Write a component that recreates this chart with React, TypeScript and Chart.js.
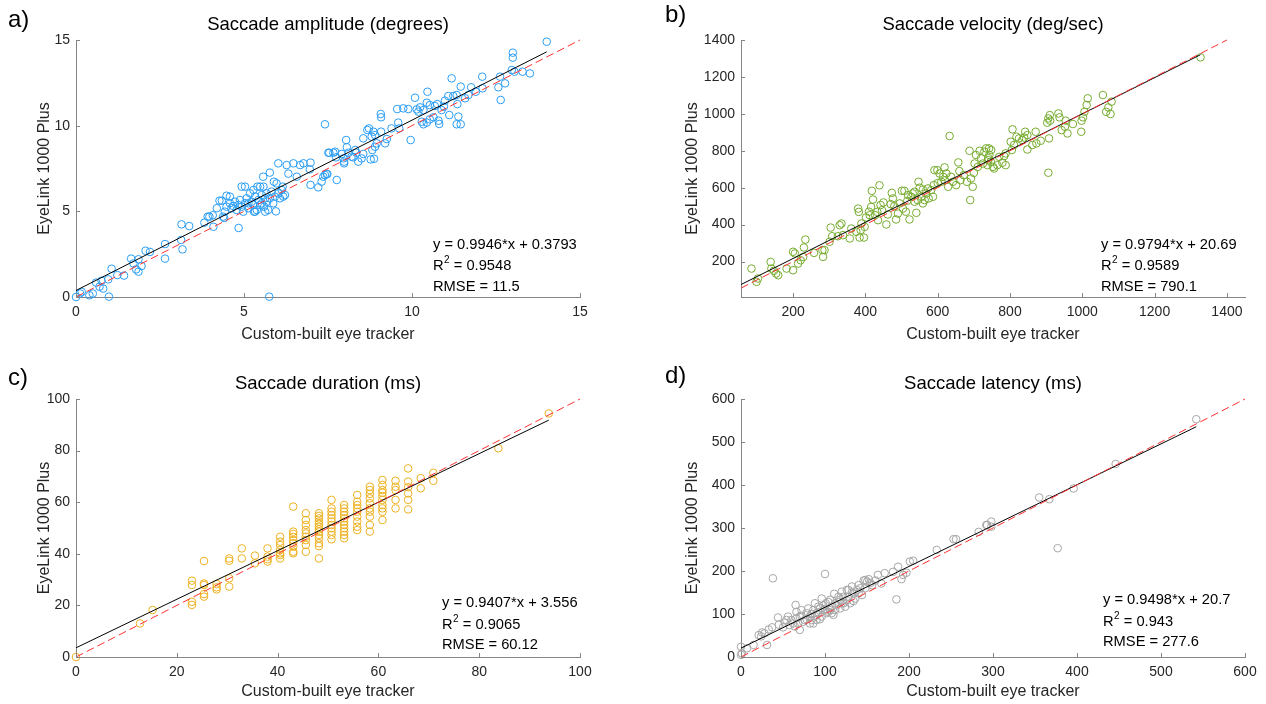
import React, { useEffect, useRef } from 'react';
import { Chart, registerables } from 'chart.js';

Chart.register(...registerables);

const FONT = "'Liberation Sans', Arial, Helvetica, sans-serif";
const AXIS_COLOR = '#858585';
const TEXT_COLOR = '#262626';

// ---------- Data ----------
const amplitudeTicks = [0, 5, 10, 15];
const velocityTicks = [200, 400, 600, 800, 1000, 1200, 1400];
const durationTicks = [0, 20, 40, 60, 80, 100];
const latencyTicks = [0, 100, 200, 300, 400, 500, 600];

const amplitudePoints: [number, number][] = [
  [0, 0], [0.12, 0.21], [0.17, 0.3], [0.4, 0.1], [0.5, 0.2], [0.6, 0.84], [0.7, 0.6], [0.76, 0.95], [0.81, 0.49],
  [0.96, 1.03], [0.98, 0.02], [1.06, 1.65], [1.23, 1.28], [1.43, 1.25], [1.64, 2.24], [1.71, 1.96], [1.79, 1.61],
  [1.86, 2.2], [1.86, 1.48], [1.95, 1.81], [2.07, 2.7], [2.2, 2.63], [2.65, 3.09], [2.65, 2.24], [3.13, 3.33],
  [3.17, 2.78], [3.14, 4.24], [3.37, 4.14], [3.82, 4.34], [3.92, 4.69], [3.97, 4.69], [4.07, 4.77], [4.09, 4.1],
  [4.38, 4.69], [4.34, 5.62], [4.41, 4.61], [4.48, 5.91], [4.58, 5.86], [4.84, 4.03], [4.93, 6.44], [5.03, 6.44],
  [5.3, 4.98], [5.75, 0.02], [5.95, 5.0], [5.77, 7.26], [5.57, 7.02], [6.02, 7.8], [6.27, 7.7], [6.32, 7.2],
  [6.47, 7.8], [6.57, 7.02], [6.67, 7.7], [6.77, 7.8], [6.96, 7.45], [6.98, 7.84], [6.98, 6.54], [7.21, 6.4],
  [7.36, 7.02], [7.41, 10.08], [7.51, 8.42], [7.46, 7.18],
  [4.58, 5.47], [4.63, 5.18], [4.68, 5.31], [4.73, 5.56], [4.78, 5.08], [4.83, 5.37], [4.88, 5.66], [4.93, 5.27],
  [4.98, 4.98], [5.03, 5.47], [5.08, 5.76], [5.13, 5.18], [5.18, 6.05], [5.23, 5.56], [5.28, 5.37], [5.33, 5.86],
  [5.38, 5.08], [5.4, 6.44], [5.43, 5.66], [5.48, 5.37], [5.53, 5.95], [5.58, 6.44], [5.6, 5.27], [5.63, 5.76],
  [5.67, 6.05], [5.69, 5.56], [5.72, 5.08], [5.77, 5.76], [5.82, 6.15], [5.87, 5.47], [5.89, 6.73], [5.92, 5.86],
  [5.97, 6.63], [6.02, 6.05], [6.07, 5.76], [6.12, 6.25], [6.15, 6.44], [6.17, 5.86], [6.22, 5.95],
  [4.27, 5.62], [4.19, 5.18], [4.48, 5.27], [4.43, 4.98], [5.13, 5.47], [5.28, 6.25], [5.48, 6.44], [5.33, 4.98],
  [5.63, 4.98], [5.53, 5.47],
  [14.01, 14.9], [13.0, 14.26], [13.0, 13.97], [12.97, 13.25], [13.05, 13.15], [13.29, 13.15], [13.51, 13.05],
  [12.62, 12.86], [12.09, 12.86], [12.77, 12.47], [12.57, 12.24], [12.1, 12.18], [11.76, 12.24], [11.45, 12.28],
  [11.9, 11.98], [11.18, 12.76], [12.64, 11.5], [11.68, 11.79], [11.58, 11.6], [11.33, 11.79], [11.23, 11.73],
  [11.08, 11.73], [10.98, 11.46], [10.95, 11.11], [10.88, 10.91], [10.75, 11.26], [10.68, 11.15], [10.53, 11.2],
  [10.46, 11.98], [10.09, 11.63], [10.44, 11.34], [10.34, 10.91], [10.24, 11.07], [10.19, 10.82], [10.14, 10.95],
  [9.89, 10.97], [9.74, 11.01], [9.56, 10.97], [11.11, 10.62], [11.35, 11.26], [11.38, 10.53], [11.33, 10.08],
  [11.45, 10.08], [10.79, 10.29], [10.81, 10.1], [10.64, 10.49], [10.53, 10.37], [10.44, 10.18], [10.34, 10.08],
  [10.29, 10.23], [9.07, 10.68], [9.08, 10.49], [9.59, 10.18], [9.62, 9.84], [9.39, 9.84], [9.96, 9.16],
  [9.08, 9.65], [9.25, 9.22], [9.2, 8.97], [8.72, 9.84], [8.67, 9.75], [8.85, 9.65], [8.8, 9.36], [8.55, 9.26],
  [8.9, 9.45], [8.04, 9.16], [8.06, 8.74], [8.95, 8.97], [8.9, 8.77], [8.82, 8.58], [8.55, 8.35], [8.31, 8.58],
  [8.34, 8.42], [8.11, 8.42], [8.25, 8.15], [8.5, 8.09], [8.4, 7.9], [8.77, 8.03], [8.87, 8.07], [7.98, 7.9],
  [7.91, 8.35], [7.71, 8.48], [7.66, 8.42], [7.54, 8.42], [7.74, 8.15], [7.96, 8.09], [7.98, 7.8], [8.2, 8.19],
  [7.76, 6.83], [7.41, 7.12], [7.48, 7.18], [7.31, 6.73],
];

const velocityPoints: [number, number][] = [
  [85, 162], [99, 90], [103, 108], [138, 198], [140, 162], [147, 150], [153, 135], [159, 126], [182, 162],
  [200, 153], [200, 253], [205, 244], [214, 189], [221, 207], [228, 225], [234, 319], [230, 276], [258, 247],
  [281, 262], [283, 225], [287, 262], [301, 307], [304, 384], [308, 337], [329, 397], [334, 406], [324, 337],
  [338, 343], [357, 325], [361, 379], [375, 361], [380, 487], [382, 469], [389, 406], [387, 370], [396, 330],
  [384, 330], [398, 388], [402, 439], [412, 451], [416, 496], [421, 536], [418, 583], [427, 451], [433, 469],
  [439, 613], [442, 506], [446, 478], [435, 424], [458, 401], [470, 511], [473, 572], [476, 542], [485, 428],
  [490, 460], [495, 515], [501, 583], [504, 487], [508, 583], [516, 529], [522, 428], [527, 551], [531, 569],
  [536, 524], [541, 464], [545, 533], [547, 632], [555, 551], [559, 590], [564, 533], [568, 569], [573, 596],
  [575, 542], [582, 587], [587, 551], [589, 614], [591, 695], [599, 695], [605, 677], [610, 632], [615, 659],
  [619, 710], [624, 677], [629, 605], [633, 880], [637, 659], [642, 632], [651, 614], [657, 737], [663, 641],
  [672, 668], [681, 632], [688, 800], [690, 533], [692, 650], [697, 605], [702, 731], [706, 777], [711, 713],
  [716, 800], [720, 759], [725, 731], [729, 795], [734, 813], [743, 777], [748, 804], [753, 713], [536, 578],
  [559, 515], [518, 560], [410, 470], [450, 520], [462, 455], [480, 500], [512, 470], [550, 600], [600, 625],
  [620, 640], [660, 690], [700, 680], [740, 760],
  [1327, 1306], [1057, 1102], [1081, 1066], [1078, 999], [1066, 1011], [1072, 1035], [1015, 1084], [1012, 1048],
  [1006, 1011], [1002, 981], [998, 963], [997, 903], [934, 1002], [910, 993], [906, 975], [911, 963], [903, 952],
  [937, 981], [954, 963], [952, 930], [959, 894], [943, 912], [974, 945], [906, 681], [908, 867], [885, 854],
  [871, 903], [873, 840], [862, 831], [848, 885], [842, 903], [839, 872], [834, 858], [848, 807], [825, 867],
  [818, 876], [807, 916], [802, 849], [811, 831], [805, 804], [788, 786], [784, 771], [788, 722], [779, 735],
  [770, 767], [765, 722], [756, 704], [742, 813], [740, 749], [747, 740], [738, 722],
];

const durationColumns: [number, number[]][] = [
  [0, [0]],
  [12.7, [13.0]],
  [15.2, [18.2]],
  [23, [29.6, 27.9, 21.4, 20.2]],
  [25.4, [37.2, 28.5, 27.9, 24.4, 23.4]],
  [27.9, [28.3, 27.0, 26.2]],
  [30.4, [38.2, 37.3, 30.5, 27.3]],
  [32.9, [42.1, 38.2]],
  [35.5, [39.3, 36.3]],
  [38, [42.1, 38.9, 37.9, 37.0]],
  [40.5, [46.6, 44.7, 43.4, 41.5, 40.2, 39.5, 38.2]],
  [43.1, [58.3, 48.6, 47.7, 46.6, 45.3, 44.1, 42.8, 40.8, 40.2]],
  [45.6, [55.7, 53.1, 51.2, 49.2, 47.9, 46.6, 45.3, 43.4, 40.8]],
  [48.2, [55.7, 54.7, 53.7, 52.5, 51.6, 50.5, 49.5, 48.6, 47.3, 46.0, 44.1, 43.0, 38.2]],
  [50.7, [60.9, 57.6, 56.3, 55.0, 53.7, 52.5, 51.2, 49.9, 48.6, 47.3, 45.6]],
  [53.2, [58.9, 57.6, 56.3, 55.0, 53.7, 52.5, 51.2, 49.9, 48.6, 47.3, 46.0]],
  [55.8, [62.8, 60.2, 58.9, 57.6, 56.3, 54.4, 52.5, 50.5, 49.2]],
  [58.3, [66.0, 64.7, 63.2, 61.5, 59.6, 57.6, 56.3, 54.4, 51.2, 48.6]],
  [60.8, [68.6, 66.7, 64.7, 63.7, 62.4, 60.9, 58.9, 57.6, 56.3, 53.1]],
  [63.4, [68.3, 66.0, 64.7, 60.9, 57.6]],
  [65.9, [73.1, 68.0, 65.8, 63.4, 60.9, 57.2]],
  [68.4, [69.3, 65.4]],
  [70.9, [71.4, 68.3]],
  [83.8, [80.9]],
  [93.8, [94.4]],
];

const latencyPoints: [number, number][] = [
  [0, 24], [0, 5], [1, 8.5], [7, 20], [15, 28], [21, 51], [25, 57], [31, 28], [33, 64], [37, 69], [38, 183],
  [44, 92], [50, 69], [54, 86], [56, 94], [58, 74], [60, 86], [65, 121], [66, 105], [68, 78], [70, 94], [72, 109],
  [76, 86], [78, 102], [80, 113], [82, 94], [84, 86], [86, 109], [88, 125], [90, 102], [92, 117], [94, 88],
  [96, 136], [98, 109], [100, 193], [101, 125], [104, 105], [106, 133], [108, 117], [110, 98], [111, 147],
  [112, 125], [116, 140], [118, 113], [120, 152], [122, 125], [124, 117], [126, 156], [128, 140], [130, 125],
  [132, 164], [134, 148], [136, 136], [138, 156], [140, 167], [144, 144], [146, 178], [148, 179], [150, 175],
  [152, 181], [156, 167], [163, 191], [167, 171], [171, 195], [181, 198], [185, 134], [187, 210], [191, 181],
  [193, 191], [197, 196], [201, 222], [205, 224], [233, 249], [253, 274], [256, 274], [283, 291], [292, 307],
  [298, 315], [62, 78], [74, 82], [82, 78], [90, 86], [96, 94], [102, 102], [112, 109], [120, 125], [64, 71],
  [86, 78], [94, 113], [106, 109], [118, 133], [128, 156], [140, 148], [70, 63], [542, 553], [446, 449],
  [396, 392], [367, 367], [355, 371], [377, 253], [293, 307], [298, 303],
  [66, 90], [72, 96], [78, 88], [84, 100], [88, 95], [92, 104], [98, 120], [100, 112], [104, 128], [108, 102],
  [114, 120], [116, 128], [122, 140], [126, 132], [132, 150], [134, 130], [142, 160], [148, 160], [154, 172],
  [160, 178], [24, 48], [28, 55], [45, 75], [52, 80],
];

// regression lines (endpoints) and identity lines
const amplitudeFit: [number, number][] = [[0, 0.379], [14.01, 14.31]];
const amplitudeIdentity: [number, number][] = [[0, 0], [15, 15]];
const velocityFit: [number, number][] = [[56, 75.5], [1327, 1320.4]];
const velocityIdentity: [number, number][] = [[56, 56], [1400, 1400]];
const durationFit: [number, number][] = [[0, 3.556], [93.8, 91.8]];
const durationIdentity: [number, number][] = [[0, 0], [100, 100]];
const latencyFit: [number, number][] = [[0, 20.7], [542, 535.5]];
const latencyIdentity: [number, number][] = [[0, 0], [600, 600]];

const durationPoints: [number, number][] = durationColumns.flatMap(([x, ys]) => ys.map((y) => [x, y] as [number, number]));

// ---------- Panel configuration ----------
const W = 633;
const H = 352;

type PanelCfg = {
  left: number; top: number;
  area: { left: number; top: number; right: number; bottom: number };
  xMin: number; xMax: number; yMin: number; yMax: number;
  xTicks: number[]; yTicks: number[];
  points: [number, number][]; fit: [number, number][]; identity: [number, number][];
  color: string; title: string; letter: string;
  letterX: number; letterY: number; titleY: number; xLabelY: number; yLabelX: number;
  annX: number; annY: number[]; eq: string; r2: string; rmse: string;
};

const panels: PanelCfg[] = [
  {
    left: 0, top: 0, area: { left: 76, top: 40, right: 580, bottom: 297 },
    xMin: 0, xMax: 15, yMin: 0, yMax: 15, xTicks: amplitudeTicks, yTicks: amplitudeTicks,
    points: amplitudePoints, fit: amplitudeFit, identity: amplitudeIdentity,
    color: '#2A9DF4', title: 'Saccade amplitude (degrees)', letter: 'a)',
    letterX: 8, letterY: 20, titleY: 25, xLabelY: 335, yLabelX: 45,
    annX: 433, annY: [245, 266, 287], eq: 'y = 0.9946*x + 0.3793', r2: ' = 0.9548', rmse: 'RMSE = 11.5',
  },
  {
    left: 633, top: 0, area: { left: 108, top: 40, right: 612, bottom: 297 },
    xMin: 56, xMax: 1450, yMin: 8, yMax: 1400, xTicks: velocityTicks, yTicks: velocityTicks,
    points: velocityPoints, fit: velocityFit, identity: velocityIdentity,
    color: '#77AC30', title: 'Saccade velocity (deg/sec)', letter: 'b)',
    letterX: 32, letterY: 15, titleY: 25, xLabelY: 335, yLabelX: 60,
    annX: 468, annY: [245, 266, 287], eq: 'y = 0.9794*x + 20.69', r2: ' = 0.9589', rmse: 'RMSE = 790.1',
  },
  {
    left: 0, top: 352, area: { left: 76, top: 47, right: 580, bottom: 305 },
    xMin: 0, xMax: 100, yMin: 0, yMax: 100, xTicks: durationTicks, yTicks: durationTicks,
    points: durationPoints, fit: durationFit, identity: durationIdentity,
    color: '#EDB120', title: 'Saccade duration (ms)', letter: 'c)',
    letterX: 8, letterY: 26, titleY: 32, xLabelY: 340, yLabelX: 45,
    annX: 442, annY: [251, 273, 293], eq: 'y = 0.9407*x + 3.556', r2: ' = 0.9065', rmse: 'RMSE = 60.12',
  },
  {
    left: 633, top: 352, area: { left: 108, top: 47, right: 612, bottom: 305 },
    xMin: 0, xMax: 600, yMin: 0, yMax: 600, xTicks: latencyTicks, yTicks: latencyTicks,
    points: latencyPoints, fit: latencyFit, identity: latencyIdentity,
    color: '#A6A6A6', title: 'Saccade latency (ms)', letter: 'd)',
    letterX: 32, letterY: 24, titleY: 32, xLabelY: 340, yLabelX: 60,
    annX: 470, annY: [248, 270, 290], eq: 'y = 0.9498*x + 20.7', r2: ' = 0.943', rmse: 'RMSE = 277.6',
  },
];

const toXY = (arr: [number, number][]) => arr.map(([x, y]) => ({ x, y }));

function PanelChart({ cfg }: { cfg: PanelCfg }) {
  const ref = useRef<HTMLCanvasElement | null>(null);
  useEffect(() => {
    if (!ref.current) return;
    const p = cfg;
    const overlay = {
      id: 'overlay',
      afterDraw(chart: any) {
        const { ctx, chartArea, scales } = chart;
        ctx.save();
        // inward tick marks
        ctx.strokeStyle = AXIS_COLOR;
        ctx.lineWidth = 1;
        const tl = 4;
        scales.x.ticks.forEach((t: any) => {
          const x = Math.round(scales.x.getPixelForValue(t.value)) + 0.5;
          ctx.beginPath();
          ctx.moveTo(x, chartArea.bottom);
          ctx.lineTo(x, chartArea.bottom - tl);
          ctx.stroke();
        });
        scales.y.ticks.forEach((t: any) => {
          const y = Math.round(scales.y.getPixelForValue(t.value)) + 0.5;
          ctx.beginPath();
          ctx.moveTo(chartArea.left, y);
          ctx.lineTo(chartArea.left + tl, y);
          ctx.stroke();
        });
        const cx = (chartArea.left + chartArea.right) / 2;
        const cy = (chartArea.top + chartArea.bottom) / 2;
        ctx.fillStyle = '#000';
        ctx.textBaseline = 'middle';
        // title
        ctx.font = `18.5px ${FONT}`;
        ctx.textAlign = 'center';
        ctx.fillText(p.title, cx, p.titleY);
        // panel letter
        ctx.font = `24px ${FONT}`;
        ctx.textAlign = 'left';
        ctx.fillText(p.letter, p.letterX, p.letterY);
        // axis labels
        ctx.fillStyle = TEXT_COLOR;
        ctx.font = `16px ${FONT}`;
        ctx.textAlign = 'center';
        ctx.fillText('Custom-built eye tracker', cx, p.xLabelY);
        ctx.save();
        ctx.translate(p.yLabelX, cy);
        ctx.rotate(-Math.PI / 2);
        ctx.fillText('EyeLink 1000 Plus', 0, 0);
        ctx.restore();
        // annotation
        ctx.fillStyle = '#000';
        ctx.textAlign = 'left';
        ctx.font = `14.7px ${FONT}`;
        ctx.fillText(p.eq, p.annX, p.annY[0]);
        ctx.fillText('R', p.annX, p.annY[1]);
        const rw = ctx.measureText('R').width;
        ctx.font = `10px ${FONT}`;
        ctx.fillText('2', p.annX + rw + 0.5, p.annY[1] - 6);
        const sw = ctx.measureText('2').width;
        ctx.font = `14.7px ${FONT}`;
        ctx.fillText(p.r2, p.annX + rw + sw + 0.5, p.annY[1]);
        ctx.fillText(p.rmse, p.annX, p.annY[2]);
        ctx.restore();
      },
    };

    const tickFont = { family: FONT, size: 14 };
    const chart = new Chart(ref.current, {
      type: 'scatter',
      data: {
        datasets: [
          {
            data: toXY(p.identity), showLine: true, borderColor: '#FF3030', borderWidth: 1,
            borderDash: [8, 4], pointRadius: 0, order: 1, clip: false as any,
          },
          {
            data: toXY(p.fit), showLine: true, borderColor: '#000000', borderWidth: 1,
            pointRadius: 0, order: 2, clip: false as any,
          },
          {
            data: toXY(p.points), showLine: false, borderColor: p.color, backgroundColor: 'rgba(0,0,0,0)',
            pointRadius: 3.8, pointBorderWidth: 1, pointStyle: 'circle', order: 3, clip: false as any,
          },
        ],
      },
      options: {
        animation: false,
        responsive: false,
        devicePixelRatio: 1,
        events: [],
        layout: { padding: { left: 0, top: p.area.top, right: W - p.area.right, bottom: 0 } },
        plugins: { legend: { display: false }, tooltip: { enabled: false }, title: { display: false } },
        scales: {
          x: {
            type: 'linear', position: 'bottom', min: p.xMin, max: p.xMax,
            grid: { display: false, drawTicks: false },
            border: { display: true, color: AXIS_COLOR, width: 1 },
            ticks: {
              color: TEXT_COLOR, font: tickFont, padding: 7, autoSkip: false, maxRotation: 0,
              callback: (v: any) => String(v),
            },
            afterBuildTicks: (s: any) => { s.ticks = p.xTicks.map((v) => ({ value: v })); },
            afterFit: (s: any) => { s.height = H - p.area.bottom; },
          },
          y: {
            type: 'linear', position: 'left', min: p.yMin, max: p.yMax,
            grid: { display: false, drawTicks: false },
            border: { display: true, color: AXIS_COLOR, width: 1 },
            ticks: {
              color: TEXT_COLOR, font: tickFont, padding: 6, autoSkip: false,
              callback: (v: any) => String(v),
            },
            afterBuildTicks: (s: any) => { s.ticks = p.yTicks.map((v) => ({ value: v })); },
            afterFit: (s: any) => { s.width = p.area.left; },
          },
        },
      } as any,
      plugins: [overlay],
    });
    return () => chart.destroy();
  }, [cfg]);
  return (
    <canvas
      ref={ref}
      width={W}
      height={H}
      style={{ position: 'absolute', left: cfg.left, top: cfg.top, width: W, height: H }}
    />
  );
}

export default function App() {
  return (
    <div style={{ position: 'absolute', left: 0, top: 0, width: 1266, height: 704, background: '#ffffff', overflow: 'hidden' }}>
      {panels.map((p) => (
        <PanelChart key={p.letter} cfg={p} />
      ))}
    </div>
  );
}
